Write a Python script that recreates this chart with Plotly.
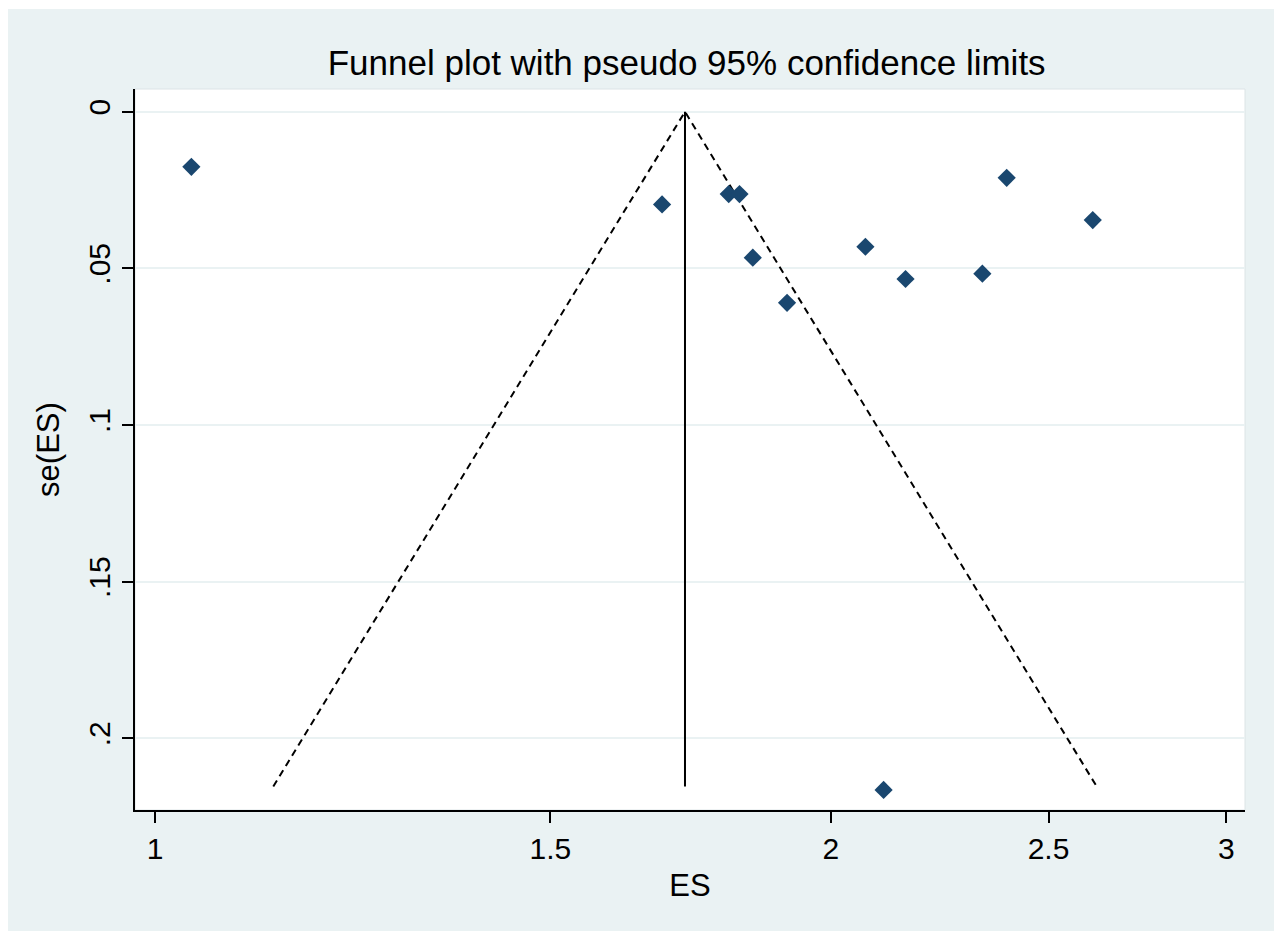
import math
import plotly.graph_objects as go

# Study effect sizes and their standard errors
es = [1.038, 1.682, 1.801, 1.821, 1.846, 1.912, 2.072, 2.159, 2.336, 2.395, 2.616, 2.111]
se_es = [0.0176, 0.0296, 0.0263, 0.0263, 0.0466, 0.0610, 0.0431, 0.0534, 0.0517, 0.0211, 0.0346, 0.2165]

# Pooled estimate and the deepest standard error reached by the funnel
pooled_es = 1.722
funnel_se_max = 0.2154

x_tickvals = [1, 1.5, 2, 2.5, 3]
x_ticktext = ["1", "1.5", "2", "2.5", "3"]
y_tickvals = [0, 0.05, 0.1, 0.15, 0.2]
y_ticktext = ["0", ".05", ".1", ".15", ".2"]

z = 1.96
lo = math.exp(math.log(pooled_es) - z * funnel_se_max)
hi = math.exp(math.log(pooled_es) + z * funnel_se_max)

FONT = "Liberation Sans, Arial, sans-serif"
REGION = "#EAF2F3"
NAVY = "#1A476F"

fig = go.Figure()

# pseudo 95% confidence limits
fig.add_trace(go.Scatter(
    x=[lo, pooled_es, hi], y=[funnel_se_max, 0, funnel_se_max],
    mode="lines", line=dict(color="black", width=2, dash="7px,5px"),
    hoverinfo="skip", showlegend=False))

# pooled estimate
fig.add_trace(go.Scatter(
    x=[pooled_es, pooled_es], y=[0, funnel_se_max],
    mode="lines", line=dict(color="black", width=2),
    hoverinfo="skip", showlegend=False))

# studies
fig.add_trace(go.Scatter(
    x=es, y=se_es, mode="markers",
    marker=dict(symbol="diamond", size=14, color=NAVY, line=dict(width=0)),
    showlegend=False))

fig.update_layout(
    width=1274, height=931,
    margin=dict(l=135, r=29, t=89, b=121),
    paper_bgcolor=REGION,
    plot_bgcolor="white",
    font=dict(family=FONT, color="black", size=30),
    title=dict(text="Funnel plot with pseudo 95% confidence limits",
               font=dict(family=FONT, size=35, color="black"),
               x=0.497, xref="paper", xanchor="center",
               y=1 - 63 / 931, yanchor="middle"),
    xaxis=dict(type="log",
               range=[math.log10(0.9797), math.log10(3.058)],
               tickvals=x_tickvals, ticktext=x_ticktext,
               showgrid=False, zeroline=False,
               showline=True, linecolor="black", linewidth=2,
               ticks="outside", ticklen=11, tickwidth=2, tickcolor="black",
               tickfont=dict(size=30),
               title=dict(text="ES", font=dict(size=31), standoff=10)),
    yaxis=dict(range=[0.2229, -0.00725],
               tickvals=y_tickvals, ticktext=y_ticktext,
               tickangle=-90,
               showgrid=True, gridcolor=REGION, gridwidth=2,
               zeroline=False,
               showline=True, linecolor="black", linewidth=2,
               ticks="outside", ticklen=11, tickwidth=2, tickcolor="black",
               tickfont=dict(size=30),
               title=dict(text="se(ES)", font=dict(size=31), standoff=14)),
    shapes=[
        # thin white border along the top and left edges of the image
        dict(type="rect", xref="paper", yref="paper",
             x0=-0.3, x1=1.2, y0=(810 - 9) / 721, y1=1.3,
             fillcolor="white", line=dict(width=0), layer="above"),
        dict(type="rect", xref="paper", yref="paper",
             x0=-0.3, x1=(8 - 135) / 1110, y0=-0.3, y1=1.3,
             fillcolor="white", line=dict(width=0), layer="above"),
        # faint plot-region outline
        dict(type="rect", xref="paper", yref="paper",
             x0=0, x1=1, y0=0, y1=1,
             line=dict(color="#DCE4E6", width=1), layer="below"),
    ],
)

fig.write_html("out.html")
